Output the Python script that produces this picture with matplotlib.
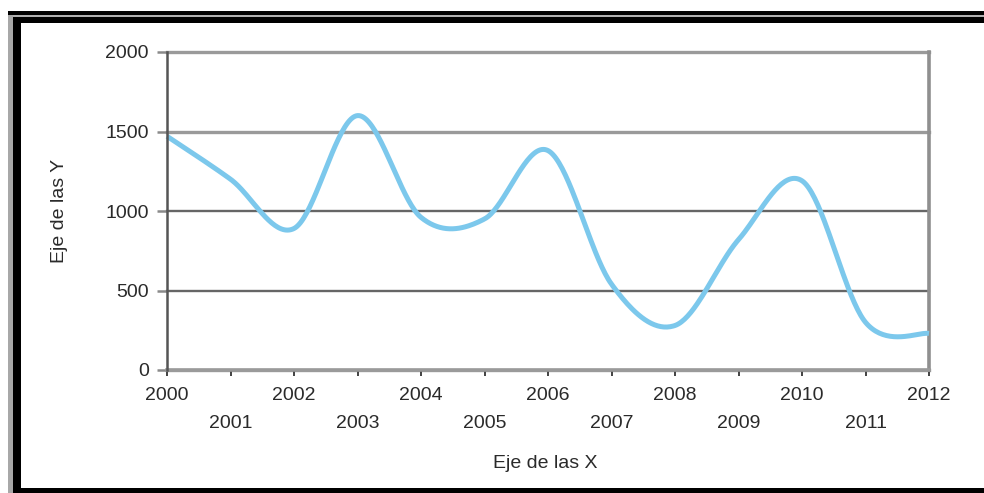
import numpy as np
import matplotlib
matplotlib.use("Agg")
import matplotlib.pyplot as plt
from matplotlib.patches import Rectangle
from matplotlib.ticker import FixedLocator

plt.rcParams['font.family'] = ['Liberation Sans', 'DejaVu Sans']

# Yearly series
years = [2000, 2001, 2002, 2003, 2004, 2005, 2006, 2007, 2008, 2009, 2010, 2011, 2012]
values = [1470, 1200, 890, 1600, 960, 950, 1380, 540, 280, 820, 1190, 300, 230]
y_ticks = [0, 500, 1000, 1500, 2000]
x_title = "Eje de las X"
y_title = "Eje de las Y"

W, H, DPI = 984, 493, 100
fig = plt.figure(figsize=(W / DPI, H / DPI), dpi=DPI, facecolor='white')


def fx(px):
    return px / W


def fy(py):
    return 1 - py / H


# Axes placed in pixel terms
left, right, top, bottom = 167, 929, 52, 370
ax = fig.add_axes([fx(left), fy(bottom), fx(right - left), fy(top) - fy(bottom)])


def smooth(xs, ys, n=40):
    """Catmull-Rom smoothing through the yearly points (smoothed line style)."""
    xs = np.asarray(xs, float)
    ys = np.asarray(ys, float)
    px = np.concatenate([[xs[0]], xs, [xs[-1]]])
    py = np.concatenate([[ys[0]], ys, [ys[-1]]])
    out_x, out_y = [], []
    for i in range(1, len(px) - 2):
        t = np.linspace(0, 1, n, endpoint=False)
        mx0 = (px[i + 1] - px[i - 1]) / 2
        mx1 = (px[i + 2] - px[i]) / 2
        my0 = (py[i + 1] - py[i - 1]) / 2
        my1 = (py[i + 2] - py[i]) / 2
        h00 = 2 * t**3 - 3 * t**2 + 1
        h10 = t**3 - 2 * t**2 + t
        h01 = -2 * t**3 + 3 * t**2
        h11 = t**3 - t**2
        out_x.append(h00 * px[i] + h10 * mx0 + h01 * px[i + 1] + h11 * mx1)
        out_y.append(h00 * py[i] + h10 * my0 + h01 * py[i + 1] + h11 * my1)
    out_x.append([xs[-1]])
    out_y.append([ys[-1]])
    return np.concatenate(out_x), np.concatenate(out_y)


sx, sy = smooth(years, values)
ax.plot(sx, sy, color='#7CC8EC', lw=3.6, solid_capstyle='butt', zorder=3, clip_on=False)

ax.set_xlim(years[0], years[-1])
ax.set_ylim(y_ticks[0], y_ticks[-1])

# Horizontal gridlines
grid_style = {0: ('#9a9a9a', 2.4), 500: ('#666666', 1.7), 1000: ('#666666', 1.7),
              1500: ('#9a9a9a', 2.4), 2000: ('#9a9a9a', 2.4)}
for v in y_ticks:
    c, lw = grid_style[v]
    ax.axhline(v, color=c, lw=lw, zorder=1, clip_on=False)

ax.set_yticks(y_ticks)
ax.set_yticklabels([str(v) for v in y_ticks])
ax.tick_params(axis='y', direction='out', length=7, width=1.8, color='#8a8a8a',
               pad=6, labelsize=14, labelcolor='#2a2a2a')

# Staggered year labels: even years near the axis, odd years one row lower
even = [y for y in years if y % 2 == 0]
odd = [y for y in years if y % 2 == 1]
ax.xaxis.set_major_locator(FixedLocator(even))
ax.xaxis.set_minor_locator(FixedLocator(odd))
ax.set_xticklabels([str(y) for y in even])
ax.set_xticklabels([str(y) for y in odd], minor=True)
ax.tick_params(axis='x', which='both', direction='out', length=4, width=1.3,
               color='#333333', labelsize=14, labelcolor='#2a2a2a')
ax.tick_params(axis='x', which='major', pad=8)
ax.tick_params(axis='x', which='minor', pad=28.5)

ax.spines['top'].set_visible(False)
ax.spines['left'].set_color('#555555')
ax.spines['left'].set_linewidth(1.8)
ax.spines['bottom'].set_color('#9a9a9a')
ax.spines['bottom'].set_linewidth(2.6)
ax.spines['right'].set_color('#8f8f8f')
ax.spines['right'].set_linewidth(2.6)
ax.spines['left'].set_zorder(4)

fig.text(fx(545), fy(463), x_title, ha='center', va='center', fontsize=14, color='#2a2a2a')
fig.text(fx(60), fy(211), y_title, ha='center', va='center', rotation=90,
         fontsize=14, color='#2a2a2a')

# Outer frame of the chart area
def frame_rect(x0, y0, x1, y1, color):
    fig.patches.append(Rectangle((fx(x0), fy(y1)), fx(x1 - x0), fy(y0) - fy(y1),
                                 transform=fig.transFigure, facecolor=color,
                                 edgecolor='none', zorder=10))


frame_rect(8, 11, 13, 493, '#a8a8a8')
frame_rect(13, 17, 21, 493, '#000000')
frame_rect(8, 11, 984, 15, '#000000')
frame_rect(13, 15, 984, 17, '#b0b0b0')
frame_rect(13, 17, 984, 23, '#000000')
frame_rect(13, 488, 984, 493, '#000000')

fig.savefig('out.png', dpi=DPI, facecolor='white')
